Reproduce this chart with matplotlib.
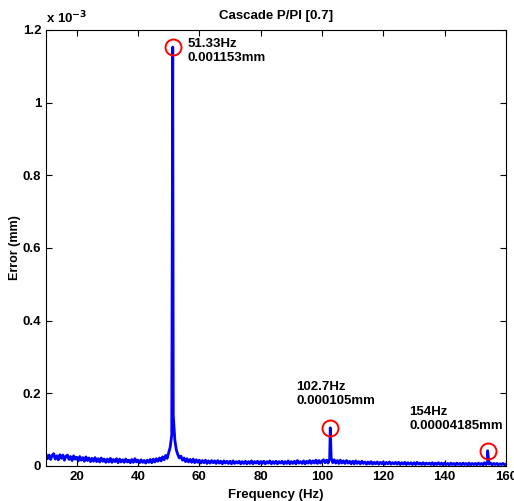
import numpy as np
import matplotlib
matplotlib.use("Agg")
import matplotlib.pyplot as plt
from matplotlib.ticker import FuncFormatter

plt.rcParams["font.family"] = ["Liberation Sans", "DejaVu Sans"]
plt.rcParams["font.weight"] = "bold"

# error spectrum in micrometres (1e-3 mm), one value every 0.5 Hz from 10 to 160 Hz
spec_start = 10.0
spec_step = 0.5
spec_um = [
    0.032, 0.020, 0.030, 0.018, 0.029, 0.034, 0.019, 0.028, 0.017, 0.031,  # 10
    0.021, 0.030, 0.016, 0.027, 0.030, 0.018, 0.026, 0.015, 0.028, 0.019,  # 15
    0.024, 0.014, 0.026, 0.016, 0.023, 0.013, 0.025, 0.015, 0.022, 0.012,  # 20
    0.021, 0.013, 0.023, 0.012, 0.020, 0.011, 0.022, 0.013, 0.019, 0.010,  # 25
    0.019, 0.011, 0.021, 0.010, 0.018, 0.012, 0.020, 0.009, 0.019, 0.011,  # 30
    0.017, 0.010, 0.019, 0.011, 0.016, 0.009, 0.018, 0.010, 0.020, 0.011,  # 35
    0.016, 0.009, 0.017, 0.010, 0.015, 0.008, 0.016, 0.010, 0.018, 0.009,  # 40
    0.019, 0.011, 0.020, 0.013, 0.022, 0.014, 0.025, 0.017, 0.029, 0.021,  # 45
    0.036, 0.052, 0.085, 0.140, 0.072, 0.044, 0.031, 0.022, 0.027, 0.016,  # 50
    0.022, 0.012, 0.020, 0.011, 0.018, 0.010, 0.019, 0.009, 0.017, 0.010,  # 55
    0.016, 0.008, 0.015, 0.009, 0.016, 0.007, 0.014, 0.008, 0.015, 0.009,  # 60
    0.014, 0.007, 0.015, 0.008, 0.013, 0.006, 0.014, 0.008, 0.013, 0.007,  # 65
    0.013, 0.006, 0.014, 0.007, 0.012, 0.008, 0.013, 0.006, 0.012, 0.007,  # 70
    0.013, 0.006, 0.012, 0.007, 0.014, 0.006, 0.012, 0.008, 0.013, 0.006,  # 75
    0.012, 0.007, 0.013, 0.006, 0.012, 0.008, 0.014, 0.006, 0.012, 0.007,  # 80
    0.013, 0.006, 0.012, 0.008, 0.013, 0.006, 0.012, 0.007, 0.014, 0.006,  # 85
    0.012, 0.007, 0.013, 0.006, 0.015, 0.008, 0.012, 0.007, 0.014, 0.006,  # 90
    0.013, 0.008, 0.015, 0.007, 0.014, 0.008, 0.016, 0.007, 0.015, 0.008,  # 95
    0.014, 0.017, 0.009, 0.016, 0.008, 0.020, 0.022, 0.009, 0.017, 0.008,  # 100
    0.015, 0.007, 0.016, 0.008, 0.014, 0.007, 0.015, 0.008, 0.013, 0.006,  # 105
    0.013, 0.006, 0.014, 0.007, 0.012, 0.006, 0.013, 0.007, 0.011, 0.005,  # 110
    0.011, 0.006, 0.012, 0.005, 0.010, 0.006, 0.011, 0.005, 0.010, 0.006,  # 115
    0.011, 0.005, 0.010, 0.006, 0.011, 0.005, 0.009, 0.006, 0.010, 0.005,  # 120
    0.010, 0.004, 0.009, 0.005, 0.010, 0.004, 0.009, 0.005, 0.009, 0.004,  # 125
    0.009, 0.004, 0.010, 0.005, 0.008, 0.004, 0.009, 0.004, 0.008, 0.005,  # 130
    0.008, 0.004, 0.009, 0.003, 0.008, 0.004, 0.009, 0.004, 0.008, 0.003,  # 135
    0.008, 0.004, 0.007, 0.003, 0.008, 0.004, 0.007, 0.003, 0.008, 0.004,  # 140
    0.007, 0.003, 0.008, 0.004, 0.007, 0.003, 0.008, 0.003, 0.007, 0.004,  # 145
    0.007, 0.003, 0.008, 0.004, 0.007, 0.003, 0.009, 0.004, 0.010, 0.005,  # 150
    0.008, 0.003, 0.007, 0.004, 0.007, 0.003, 0.006, 0.004, 0.007, 0.003,  # 155
    0.005,                                                                 # 160
]

# harmonic peaks
peak_hz = [51.33, 102.7, 154.0]
peak_um = [1.153, 0.105, 0.04185]
peak_text = ["51.33Hz\n0.001153mm", "102.7Hz\n0.000105mm", "154Hz\n0.00004185mm"]
text_pos = [(56.3, 1.178), (91.7, 0.234), (128.4, 0.165)]

freq = spec_start + spec_step * np.arange(len(spec_um))
f_all = np.concatenate([freq, peak_hz])
a_all = np.concatenate([spec_um, peak_um])
order = np.argsort(f_all, kind="stable")
f_all, a_all = f_all[order], a_all[order]

fig = plt.figure(figsize=(5.14, 5.01), dpi=100)
ax = fig.add_axes([0.0895, 0.0699, 0.8949, 0.8703])

ax.plot(f_all, a_all, color=(0, 0, 1), lw=2.0)
ax.plot(peak_hz, peak_um, "o", ms=11.5, mfc="none", mec="red", mew=1.4)
for (tx, ty), s in zip(text_pos, peak_text):
    ax.text(tx, ty, s, fontsize=9.5, fontweight="bold", va="top", ha="left",
            linespacing=1.25)

ax.set_xlim(10, 160)
ax.set_ylim(0, 1.2)
ax.set_xticks(np.arange(20, 161, 20))
ax.set_yticks(np.arange(0, 1.21, 0.2))
ax.yaxis.set_major_formatter(FuncFormatter(lambda v, p: f"{v:g}"))
ax.tick_params(direction="in", top=True, right=True, length=4, width=0.8,
               labelsize=9.5)
for lab in ax.get_xticklabels() + ax.get_yticklabels():
    lab.set_fontweight("bold")
for sp in ax.spines.values():
    sp.set_linewidth(0.8)

ax.text(0, 1.008, r"x 10$^{\mathbf{-3}}$", transform=ax.transAxes, fontsize=9.5,
        fontweight="bold", va="bottom", ha="left")
ax.set_title("Cascade P/PI [0.7]", fontsize=9.5, fontweight="bold", pad=8)
ax.set_xlabel("Frequency (Hz)", fontsize=9.5, fontweight="bold", labelpad=4.5)
ax.set_ylabel("Error (mm)", fontsize=9, fontweight="bold", labelpad=1)

fig.savefig("out.png", dpi=100)
